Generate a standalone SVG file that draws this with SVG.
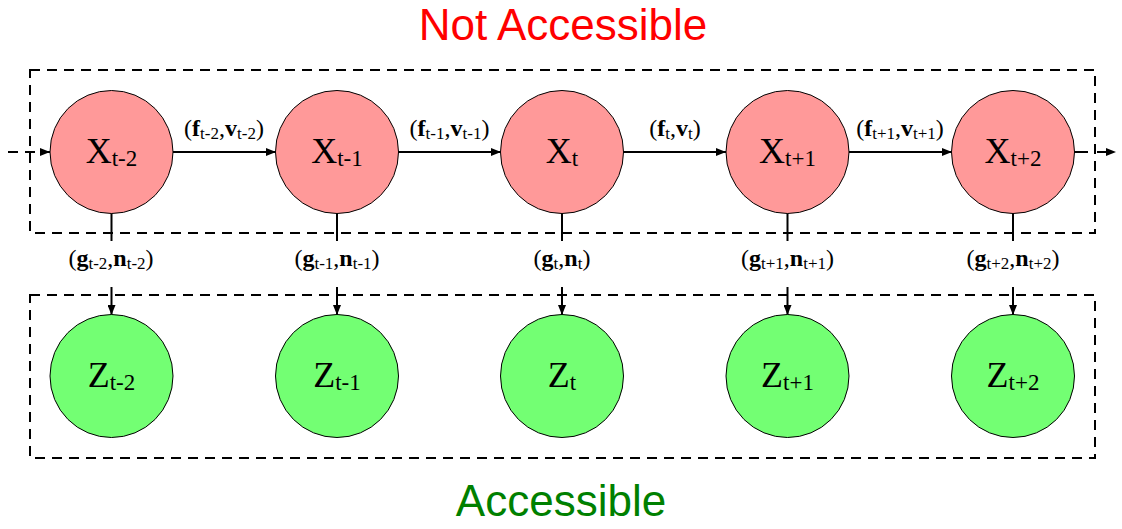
<svg xmlns="http://www.w3.org/2000/svg" width="1122" height="529" viewBox="0 0 1122 529">
<style>
.box{fill:none;stroke:#000;stroke-width:2;stroke-dasharray:10,7}
.xn{fill:#ff9999;stroke:#000;stroke-width:1}
.zn{fill:#73ff73;stroke:#000;stroke-width:1}
.lbl{font-family:"Liberation Serif",serif;font-size:36px;fill:#000;text-anchor:middle}
.sub{font-size:23px}
.el{font-family:"Liberation Serif",serif;font-size:24px;fill:#000;text-anchor:middle}
.b{font-weight:bold}
.es{font-size:17px;font-weight:normal}
.edge{stroke:#000;stroke-width:2;fill:none}
.title{font-family:"Liberation Sans",Arial,sans-serif;font-size:44px;text-anchor:middle}
</style>
<defs>
<marker id="ah" viewBox="0 0 10 8" refX="10" refY="4" markerWidth="10" markerHeight="8" markerUnits="userSpaceOnUse" orient="auto">
<path d="M0,0 L10,4 L0,8 Z" fill="#000"/>
</marker>
</defs>
<text class="title" x="563" y="40" fill="#ff0000">Not Accessible</text>
<text class="title" x="561" y="516" fill="#008000">Accessible</text>
<g id="boxes">
<rect class="box" x="30" y="70" width="1065" height="163"/>
<rect class="box" x="30" y="295" width="1065" height="163"/>
</g>
<g id="connectors">
<line class="edge" x1="8" y1="152" x2="50" y2="152" stroke-dasharray="10,7" marker-end="url(#ah)"/>
<line class="edge" x1="173" y1="152" x2="276" y2="152" marker-end="url(#ah)"/>
<line class="edge" x1="398" y1="152" x2="501" y2="152" marker-end="url(#ah)"/>
<line class="edge" x1="623" y1="152" x2="726" y2="152" marker-end="url(#ah)"/>
<line class="edge" x1="849" y1="152" x2="952" y2="152" marker-end="url(#ah)"/>
<line class="edge" x1="1074" y1="152" x2="1116" y2="152" stroke-dasharray="14,9" marker-end="url(#ah)"/>
<g id="vert">
<line class="edge" x1="111.5" y1="213" x2="111.5" y2="241"/>
<line class="edge" x1="111.5" y1="287" x2="111.5" y2="315" marker-end="url(#ah)"/>
<line class="edge" x1="337" y1="213" x2="337" y2="241"/>
<line class="edge" x1="337" y1="287" x2="337" y2="315" marker-end="url(#ah)"/>
<line class="edge" x1="562" y1="213" x2="562" y2="241"/>
<line class="edge" x1="562" y1="287" x2="562" y2="315" marker-end="url(#ah)"/>
<line class="edge" x1="787.5" y1="213" x2="787.5" y2="241"/>
<line class="edge" x1="787.5" y1="287" x2="787.5" y2="315" marker-end="url(#ah)"/>
<line class="edge" x1="1013" y1="213" x2="1013" y2="241"/>
<line class="edge" x1="1013" y1="287" x2="1013" y2="315" marker-end="url(#ah)"/>
</g>
<text class="el" x="224" y="136">(<tspan class="b">f</tspan><tspan class="es" dy="3">t-2</tspan><tspan dy="-3">,</tspan><tspan class="b">v</tspan><tspan class="es" dy="3">t-2</tspan><tspan dy="-3">)</tspan></text>
<text class="el" x="449.5" y="136">(<tspan class="b">f</tspan><tspan class="es" dy="3">t-1</tspan><tspan dy="-3">,</tspan><tspan class="b">v</tspan><tspan class="es" dy="3">t-1</tspan><tspan dy="-3">)</tspan></text>
<text class="el" x="675" y="136">(<tspan class="b">f</tspan><tspan class="es" dy="3">t</tspan><tspan dy="-3">,</tspan><tspan class="b">v</tspan><tspan class="es" dy="3">t</tspan><tspan dy="-3">)</tspan></text>
<text class="el" x="900" y="136">(<tspan class="b">f</tspan><tspan class="es" dy="3">t+1</tspan><tspan dy="-3">,</tspan><tspan class="b">v</tspan><tspan class="es" dy="3">t+1</tspan><tspan dy="-3">)</tspan></text>
<text class="el" x="111" y="266">(<tspan class="b">g</tspan><tspan class="es" dy="3">t-2</tspan><tspan dy="-3">,</tspan><tspan class="b">n</tspan><tspan class="es" dy="3">t-2</tspan><tspan dy="-3">)</tspan></text>
<text class="el" x="337" y="266">(<tspan class="b">g</tspan><tspan class="es" dy="3">t-1</tspan><tspan dy="-3">,</tspan><tspan class="b">n</tspan><tspan class="es" dy="3">t-1</tspan><tspan dy="-3">)</tspan></text>
<text class="el" x="562" y="266">(<tspan class="b">g</tspan><tspan class="es" dy="3">t</tspan><tspan dy="-3">,</tspan><tspan class="b">n</tspan><tspan class="es" dy="3">t</tspan><tspan dy="-3">)</tspan></text>
<text class="el" x="787.5" y="266">(<tspan class="b">g</tspan><tspan class="es" dy="3">t+1</tspan><tspan dy="-3">,</tspan><tspan class="b">n</tspan><tspan class="es" dy="3">t+1</tspan><tspan dy="-3">)</tspan></text>
<text class="el" x="1013" y="266">(<tspan class="b">g</tspan><tspan class="es" dy="3">t+2</tspan><tspan dy="-3">,</tspan><tspan class="b">n</tspan><tspan class="es" dy="3">t+2</tspan><tspan dy="-3">)</tspan></text>
</g>
<g id="X_t-2"><circle class="xn" cx="111.5" cy="152" r="61.5"/><text class="lbl" x="111.5" y="163">X<tspan class="sub" dy="3">t-2</tspan></text></g>
<g id="X_t-1"><circle class="xn" cx="337" cy="152" r="61.5"/><text class="lbl" x="337" y="163">X<tspan class="sub" dy="3">t-1</tspan></text></g>
<g id="X_t"><circle class="xn" cx="562" cy="152" r="61.5"/><text class="lbl" x="562" y="163">X<tspan class="sub" dy="3">t</tspan></text></g>
<g id="X_t+1"><circle class="xn" cx="787.5" cy="152" r="61.5"/><text class="lbl" x="787.5" y="163">X<tspan class="sub" dy="3">t+1</tspan></text></g>
<g id="X_t+2"><circle class="xn" cx="1013" cy="152" r="61.5"/><text class="lbl" x="1013" y="163">X<tspan class="sub" dy="3">t+2</tspan></text></g>
<g id="Z_t-2"><circle class="zn" cx="111.5" cy="376" r="61.5"/><text class="lbl" x="111.5" y="387">Z<tspan class="sub" dy="3">t-2</tspan></text></g>
<g id="Z_t-1"><circle class="zn" cx="337" cy="376" r="61.5"/><text class="lbl" x="337" y="387">Z<tspan class="sub" dy="3">t-1</tspan></text></g>
<g id="Z_t"><circle class="zn" cx="562" cy="376" r="61.5"/><text class="lbl" x="562" y="387">Z<tspan class="sub" dy="3">t</tspan></text></g>
<g id="Z_t+1"><circle class="zn" cx="787.5" cy="376" r="61.5"/><text class="lbl" x="787.5" y="387">Z<tspan class="sub" dy="3">t+1</tspan></text></g>
<g id="Z_t+2"><circle class="zn" cx="1013" cy="376" r="61.5"/><text class="lbl" x="1013" y="387">Z<tspan class="sub" dy="3">t+2</tspan></text></g>
</svg>
